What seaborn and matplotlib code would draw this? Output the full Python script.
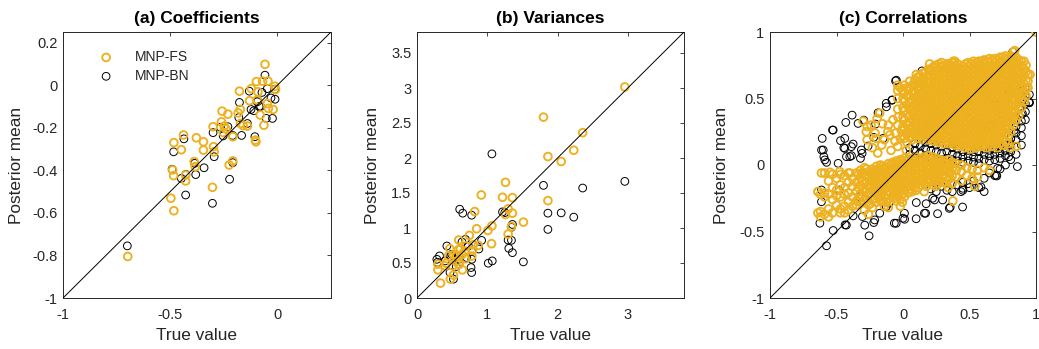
import matplotlib
matplotlib.use("Agg")
import matplotlib.pyplot as plt
import seaborn as sns
import pandas as pd

# ---------------- data ----------------
# (a) Coefficients: (true value, posterior mean)
coef_fs = [(-0.058,0.098),(-0.098,0.017),(-0.069,0.019),(-0.044,0.019),(-0.012,-0.005),(-0.009,-0.020),
           (-0.177,-0.028),(-0.091,-0.031),(-0.122,-0.016),(-0.130,-0.073),(-0.094,-0.070),(-0.173,-0.114),
           (-0.183,-0.130),(-0.047,-0.086),(-0.042,-0.109),(-0.020,-0.114),(-0.080,-0.140),(-0.063,-0.188),
           (-0.258,-0.122),(-0.231,-0.136),(-0.261,-0.172),(-0.248,-0.192),(-0.240,-0.205),(-0.300,-0.195),
           (-0.253,-0.222),(-0.208,-0.242),(-0.172,-0.180),(-0.160,-0.190),(-0.140,-0.192),(-0.103,-0.258),
           (-0.100,-0.266),(-0.438,-0.234),(-0.378,-0.247),(-0.345,-0.266),(-0.345,-0.305),(-0.483,-0.270),
           (-0.448,-0.303),(-0.298,-0.289),(-0.295,-0.313),(-0.388,-0.359),(-0.383,-0.383),(-0.489,-0.398),
           (-0.484,-0.425),(-0.428,-0.422),(-0.428,-0.450),(-0.208,-0.356),(-0.225,-0.375),(-0.303,-0.480),
           (-0.497,-0.531),(-0.483,-0.590),(-0.698,-0.805)]
coef_bn = [(-0.058,0.047),(-0.047,-0.016),(-0.131,-0.028),(-0.072,-0.034),(-0.012,-0.019),(-0.011,-0.066),
           (-0.177,-0.081),(-0.123,-0.114),(-0.091,-0.073),(-0.078,-0.100),(-0.052,-0.156),(-0.023,-0.156),
           (-0.180,-0.152),(-0.266,-0.198),(-0.231,-0.195),(-0.300,-0.223),(-0.253,-0.238),(-0.209,-0.236),
           (-0.167,-0.236),(-0.105,-0.242),(-0.436,-0.252),(-0.484,-0.313),(-0.295,-0.336),(-0.386,-0.367),
           (-0.342,-0.388),(-0.491,-0.395),(-0.448,-0.438),(-0.427,-0.419),(-0.381,-0.420),(-0.208,-0.364),
           (-0.223,-0.442),(-0.428,-0.516),(-0.303,-0.555),(-0.700,-0.755),(-0.094,-0.078),(-0.140,-0.180),
           (-0.110,-0.120),(-0.030,-0.060),(-0.085,-0.100)]

# (b) Variances
var_fs = [(2.958,3.015),(1.800,2.584),(2.358,2.362),(2.231,2.111),(1.863,2.021),(2.052,1.950),(1.259,1.652),
          (0.915,1.472),(1.217,1.439),(1.358,1.434),(1.863,1.391),(0.821,1.235),(1.297,1.273),(1.259,1.193),
          (1.358,1.212),(1.514,1.084),(0.849,0.989),(1.066,1.030),(1.009,0.965),(1.344,1.022),(1.297,0.913),
          (1.061,0.776),(0.745,0.894),(0.594,0.828),(0.698,0.743),(0.873,0.752),(0.467,0.705),(0.448,0.601),
          (0.566,0.601),(0.415,0.497),(0.297,0.483),(0.297,0.402),(0.509,0.459),(0.519,0.326),(0.476,0.270),
          (0.335,0.213),(0.646,0.402),(0.620,0.700),(0.790,0.680),(0.640,0.620),(0.560,0.520),(0.690,0.560),
          (0.800,0.760),(0.520,0.620),(0.400,0.460),(0.600,0.480),(0.590,0.690),(0.680,0.670),(0.780,0.600)]
var_bn = [(1.066,2.059),(1.800,1.609),(2.358,1.571),(2.958,1.666),(0.608,1.268),(0.651,1.212),(0.778,1.183),
          (1.217,1.230),(1.250,1.220),(1.863,1.212),(2.052,1.216),(2.231,1.155),(1.863,0.980),(1.358,1.051),
          (1.344,1.010),(1.297,0.828),(1.307,0.710),(1.344,0.824),(1.358,0.648),(1.514,0.516),(1.071,0.530),
          (1.014,0.497),(0.920,0.823),(0.689,0.838),(0.731,0.743),(0.425,0.743),(0.321,0.601),(0.292,0.511),
          (0.495,0.625),(0.769,0.435),(0.778,0.364),(0.590,0.554),(0.470,0.364),(0.708,0.577),(0.780,0.553),
          (0.590,0.487),(0.400,0.530),(0.283,0.553),(0.519,0.270),(0.880,0.700),(0.640,0.800),(0.560,0.450),
          (0.480,0.600)]

# (c) Correlations: columns of (true value, [posterior means])
corr_fs_upper = [
    (-0.04, [0.30, 0.42, 0.50, 0.56, 0.60]),
    (0.00, [0.22, 0.29, 0.36, 0.43, 0.50, 0.56]),
    (0.01, [0.20, 0.27, 0.34, 0.41, 0.48, 0.54, 0.60]),
    (0.03, [0.17, 0.24, 0.31, 0.38, 0.45, 0.52, 0.58]),
    (0.05, [0.21, 0.27, 0.32, 0.37, 0.42, 0.47, 0.52, 0.58]),
    (0.07, [0.19, 0.24, 0.29, 0.34, 0.39, 0.44, 0.49, 0.55, 0.60]),
    (0.09, [0.22, 0.27, 0.31, 0.36, 0.41, 0.46, 0.50, 0.55, 0.60, 0.64]),
    (0.11, [0.20, 0.25, 0.29, 0.34, 0.38, 0.43, 0.48, 0.52, 0.57, 0.62, 0.66]),
    (0.13, [0.22, 0.26, 0.31, 0.35, 0.40, 0.44, 0.49, 0.53, 0.58, 0.62, 0.67]),
    (0.15, [0.19, 0.24, 0.28, 0.33, 0.37, 0.42, 0.46, 0.51, 0.55, 0.60, 0.64, 0.69]),
    (0.17, [0.21, 0.26, 0.30, 0.35, 0.39, 0.44, 0.48, 0.53, 0.57, 0.62, 0.66, 0.70]),
    (0.19, [0.19, 0.23, 0.27, 0.32, 0.36, 0.40, 0.45, 0.49, 0.53, 0.58, 0.62, 0.67, 0.72]),
    (0.21, [0.20, 0.25, 0.29, 0.33, 0.38, 0.42, 0.46, 0.50, 0.55, 0.59, 0.63, 0.67, 0.72]),
    (0.23, [0.18, 0.22, 0.26, 0.31, 0.35, 0.39, 0.43, 0.48, 0.52, 0.56, 0.61, 0.65, 0.69, 0.74]),
    (0.25, [0.19, 0.23, 0.28, 0.32, 0.36, 0.41, 0.45, 0.49, 0.53, 0.58, 0.62, 0.66, 0.71, 0.75]),
    (0.27, [0.17, 0.21, 0.25, 0.30, 0.34, 0.38, 0.42, 0.47, 0.51, 0.55, 0.59, 0.64, 0.68, 0.72, 0.76]),
    (0.29, [0.18, 0.22, 0.27, 0.31, 0.35, 0.40, 0.44, 0.48, 0.52, 0.57, 0.61, 0.65, 0.69, 0.74, 0.77]),
    (0.31, [0.16, 0.20, 0.24, 0.29, 0.33, 0.37, 0.41, 0.46, 0.50, 0.54, 0.58, 0.63, 0.67, 0.71, 0.75]),
    (0.33, [0.18, 0.22, 0.26, 0.31, 0.35, 0.39, 0.44, 0.48, 0.52, 0.56, 0.61, 0.65, 0.69, 0.73, 0.76]),
    (0.35, [0.16, 0.20, 0.25, 0.29, 0.33, 0.38, 0.42, 0.46, 0.50, 0.55, 0.59, 0.63, 0.67, 0.72, 0.76]),
    (0.37, [0.17, 0.21, 0.26, 0.30, 0.34, 0.39, 0.43, 0.47, 0.52, 0.56, 0.60, 0.64, 0.69, 0.73, 0.77]),
    (0.39, [0.15, 0.19, 0.23, 0.28, 0.32, 0.36, 0.40, 0.45, 0.49, 0.53, 0.57, 0.62, 0.66, 0.70, 0.74, 0.78]),
    (0.41, [0.16, 0.20, 0.25, 0.29, 0.33, 0.38, 0.42, 0.46, 0.50, 0.55, 0.59, 0.63, 0.68, 0.72, 0.76]),
    (0.43, [0.14, 0.18, 0.23, 0.27, 0.31, 0.35, 0.40, 0.44, 0.48, 0.52, 0.57, 0.61, 0.65, 0.69, 0.73]),
    (0.45, [0.15, 0.19, 0.24, 0.28, 0.32, 0.37, 0.41, 0.45, 0.50, 0.54, 0.58, 0.62, 0.67, 0.71, 0.74]),
    (0.47, [0.13, 0.17, 0.22, 0.26, 0.30, 0.34, 0.39, 0.43, 0.47, 0.51, 0.56, 0.60, 0.64, 0.68, 0.72, 0.76]),
    (0.49, [0.14, 0.19, 0.23, 0.27, 0.32, 0.36, 0.40, 0.44, 0.49, 0.53, 0.57, 0.62, 0.66, 0.70, 0.74, 0.77]),
    (0.51, [0.12, 0.16, 0.21, 0.25, 0.29, 0.34, 0.38, 0.42, 0.46, 0.51, 0.55, 0.59, 0.63, 0.68, 0.72, 0.76]),
    (0.53, [0.14, 0.18, 0.23, 0.27, 0.31, 0.36, 0.40, 0.44, 0.49, 0.53, 0.57, 0.61, 0.66, 0.70, 0.74, 0.78]),
    (0.55, [0.13, 0.17, 0.21, 0.26, 0.30, 0.34, 0.38, 0.43, 0.47, 0.51, 0.55, 0.60, 0.64, 0.68, 0.72, 0.77]),
    (0.57, [0.15, 0.19, 0.24, 0.28, 0.32, 0.36, 0.41, 0.45, 0.49, 0.54, 0.58, 0.62, 0.67, 0.71, 0.75, 0.78]),
    (0.59, [0.14, 0.18, 0.22, 0.27, 0.31, 0.35, 0.40, 0.44, 0.48, 0.52, 0.57, 0.61, 0.65, 0.69, 0.74, 0.78]),
    (0.61, [0.15, 0.20, 0.24, 0.29, 0.33, 0.37, 0.42, 0.46, 0.50, 0.55, 0.59, 0.63, 0.67, 0.72, 0.76, 0.79]),
    (0.63, [0.13, 0.17, 0.22, 0.26, 0.30, 0.35, 0.39, 0.43, 0.48, 0.52, 0.56, 0.60, 0.65, 0.69, 0.73, 0.78]),
    (0.65, [0.16, 0.21, 0.25, 0.29, 0.34, 0.38, 0.42, 0.47, 0.51, 0.55, 0.60, 0.64, 0.68, 0.72, 0.77, 0.80]),
    (0.67, [0.14, 0.19, 0.23, 0.27, 0.32, 0.36, 0.40, 0.45, 0.49, 0.53, 0.58, 0.62, 0.66, 0.70, 0.75, 0.79]),
    (0.69, [0.16, 0.20, 0.25, 0.29, 0.34, 0.38, 0.42, 0.47, 0.51, 0.55, 0.60, 0.64, 0.68, 0.72, 0.77, 0.80]),
    (0.71, [0.13, 0.18, 0.22, 0.27, 0.31, 0.35, 0.40, 0.44, 0.48, 0.53, 0.57, 0.61, 0.66, 0.70, 0.74, 0.79]),
    (0.73, [0.16, 0.21, 0.25, 0.30, 0.34, 0.38, 0.43, 0.47, 0.51, 0.56, 0.60, 0.64, 0.69, 0.73, 0.77, 0.81]),
    (0.75, [0.15, 0.20, 0.25, 0.29, 0.34, 0.38, 0.42, 0.47, 0.51, 0.55, 0.60, 0.64, 0.68, 0.73, 0.77, 0.81]),
    (0.77, [0.18, 0.23, 0.28, 0.32, 0.36, 0.41, 0.45, 0.49, 0.54, 0.58, 0.62, 0.67, 0.71, 0.75, 0.79, 0.82]),
    (0.79, [0.16, 0.22, 0.28, 0.33, 0.37, 0.42, 0.46, 0.50, 0.55, 0.59, 0.63, 0.68, 0.72, 0.76, 0.80]),
    (0.81, [0.25, 0.31, 0.36, 0.40, 0.44, 0.49, 0.53, 0.57, 0.62, 0.66, 0.70, 0.74, 0.78, 0.82]),
    (0.83, [0.30, 0.36, 0.41, 0.45, 0.50, 0.54, 0.58, 0.63, 0.67, 0.71, 0.76, 0.80, 0.85]),
    (0.85, [0.34, 0.40, 0.45, 0.50, 0.55, 0.60, 0.64, 0.69, 0.73, 0.77, 0.81]),
    (0.87, [0.37, 0.42, 0.47, 0.52, 0.57, 0.62, 0.66, 0.71, 0.75, 0.79]),
    (0.89, [0.43, 0.49, 0.54, 0.59, 0.64, 0.69, 0.74, 0.78]),
    (0.91, [0.48, 0.55, 0.61, 0.67, 0.72, 0.78]),
    (0.925, [0.52, 0.58, 0.64, 0.70, 0.75]),
    (0.94, [0.58, 0.63, 0.68]),
]
corr_fs_lower = [
    (-0.64, [-0.20, -0.36]), (-0.62, [-0.22, -0.35, -0.39]), (-0.59, [-0.06, -0.21, -0.24, -0.37]),
    (-0.56, [-0.12, -0.22, -0.33, -0.39]), (-0.53, [-0.07, -0.17, -0.26, -0.36]),
    (-0.50, [-0.10, -0.19, -0.23, -0.30]), (-0.47, [-0.07, -0.15, -0.24, -0.33, -0.36]),
    (-0.44, [-0.08, -0.17, -0.22, -0.31, -0.36]), (-0.41, [-0.06, -0.13, -0.21, -0.28, -0.34]),
    (-0.38, [-0.10, -0.16, -0.24, -0.31]), (-0.35, [-0.06, -0.13, -0.20, -0.27, -0.30]),
    (-0.335, [-0.07, -0.17, -0.25]), (-0.32, [-0.04, -0.09, -0.15, -0.22, -0.28]),
    (-0.305, [-0.06, -0.12, -0.18, -0.24]), (-0.29, [-0.02, -0.08, -0.14, -0.19, -0.27, -0.34]),
    (-0.275, [-0.03, -0.08, -0.13, -0.20, -0.26]), (-0.26, [-0.05, -0.10, -0.16, -0.23, -0.30, -0.37]),
    (-0.245, [-0.06, -0.11, -0.16, -0.22, -0.29]), (-0.23, [-0.03, -0.08, -0.13, -0.19, -0.26, -0.32]),
    (-0.215, [-0.04, -0.09, -0.14, -0.19, -0.25]), (-0.20, [-0.01, -0.06, -0.11, -0.16, -0.22, -0.28]),
    (-0.185, [-0.03, -0.08, -0.13, -0.18, -0.24]), (-0.17, [0.00, -0.05, -0.10, -0.15, -0.21, -0.27]),
    (-0.155, [-0.01, -0.05, -0.10, -0.15, -0.21, -0.27]), (-0.14, [-0.02, -0.07, -0.12, -0.18, -0.24, -0.31]),
    (-0.125, [-0.02, -0.06, -0.11, -0.17, -0.22, -0.28]), (-0.11, [0.01, -0.04, -0.09, -0.14, -0.20, -0.25, -0.32]),
    (-0.095, [0.00, -0.05, -0.10, -0.15, -0.21]), (-0.08, [0.02, -0.03, -0.08, -0.13, -0.18, -0.24]),
    (-0.065, [0.01, -0.04, -0.09, -0.14, -0.20, -0.25]), (-0.05, [0.03, -0.02, -0.07, -0.12, -0.17, -0.22, -0.27]),
    (-0.035, [0.02, -0.03, -0.08, -0.13, -0.18, -0.23]), (-0.02, [0.04, 0.00, -0.05, -0.10, -0.15, -0.20, -0.26, -0.31]),
    (-0.005, [0.03, -0.02, -0.07, -0.12, -0.17, -0.22, -0.28]), (0.01, [0.05, 0.01, -0.04, -0.09, -0.14, -0.19, -0.24]),
    (0.025, [0.03, -0.02, -0.07, -0.12, -0.17]), (0.04, [0.04, -0.01, -0.06, -0.11, -0.16, -0.21]),
    (0.055, [0.02, -0.03, -0.08, -0.13, -0.18]), (0.07, [0.05, 0.00, -0.05, -0.10, -0.15, -0.20]),
    (0.085, [0.03, -0.02, -0.07, -0.12, -0.17]), (0.10, [0.06, 0.01, -0.04, -0.09, -0.14, -0.19]),
    (0.115, [0.03, -0.02, -0.07, -0.12, -0.17]), (0.13, [0.05, 0.00, -0.05, -0.10, -0.15]),
    (0.145, [0.03, -0.02, -0.07, -0.12]), (0.16, [0.06, 0.01, -0.04, -0.09, -0.14, -0.20]),
    (0.175, [0.04, -0.01, -0.06, -0.11, -0.16]), (0.19, [0.07, 0.02, -0.03, -0.08, -0.13]),
    (0.205, [0.04, -0.01, -0.06, -0.11]), (0.22, [0.06, 0.01, -0.04, -0.09, -0.15]),
    (0.235, [0.03, -0.02, -0.07, -0.12]), (0.25, [0.05, 0.00, -0.05, -0.10, -0.16]),
    (0.265, [0.02, -0.03, -0.08, -0.14]), (0.28, [0.04, -0.01, -0.06, -0.12]),
    (0.295, [0.01, -0.04, -0.09]), (0.31, [0.03, -0.02, -0.07, -0.13]),
    (0.325, [0.01, -0.04, -0.09, -0.14]), (0.34, [0.04, -0.01, -0.06, -0.11, -0.17]),
    (0.355, [0.00, -0.05, -0.10]), (0.37, [0.02, -0.03, -0.08, -0.14]),
    (0.40, [0.01, -0.04, -0.09]), (0.44, [0.00, -0.05, -0.12]), (0.48, [-0.02, -0.08]),
    (0.52, [-0.03, -0.10]), (0.56, [-0.04, -0.09]), (0.61, [-0.02]),
]
corr_fs_other = [(-0.30,0.33),(-0.27,0.29),(-0.24,0.30),(-0.195,0.35),(-0.175,0.39),(-0.155,0.31),(-0.11,0.30),
                 (-0.075,0.34),(-0.0375,0.36),(-0.10,0.225),(-0.055,0.24),(-0.0125,0.26),(-0.19,0.09),(-0.27,0.19),
                 (-0.21,0.24),(-0.09,0.11),(-0.04,0.14),(0.025,0.11),(-0.14,0.19),(-0.20,0.20),(-0.276,0.25),
                 (-0.114,0.25),(-0.23,0.13),(-0.16,0.15),(-0.06,0.18),(-0.02,0.20),(0.375,-0.27),(0.65,-0.04),
                 (0.81,0.13),(0.85,0.14),(0.955,0.68),(0.38,0.78),(0.54,-0.16),(1.0,1.0),(-0.613,-0.06),
                 (-0.55,-0.055),(-0.476,-0.05),(-0.40,-0.06),(0.84,0.86),(0.20,0.76),(0.10,0.68),(0.05,0.63),
                 (-0.02,0.58)]
corr_bn_band = [
    (0.05, [0.02, 0.08, 0.13]), (0.09, [0.06, 0.11, 0.16]), (0.13, [0.04, 0.09, 0.14]),
    (0.17, [0.07, 0.12, 0.17]), (0.21, [0.06, 0.11, 0.16, -0.18]), (0.25, [0.05, 0.10, 0.15, -0.20]),
    (0.29, [0.04, 0.09, 0.14, -0.16]), (0.33, [0.05, 0.10, 0.15, -0.19]), (0.37, [0.04, 0.08, 0.13, -0.20]),
    (0.41, [0.03, 0.07, 0.12, -0.15]), (0.45, [0.02, 0.06, 0.10, -0.13, -0.19]), (0.49, [0.03, 0.07, 0.11, -0.14]),
    (0.53, [0.02, 0.06, 0.10, -0.12]), (0.57, [0.01, 0.05, 0.10, -0.17]), (0.61, [0.04, 0.08, 0.12, -0.10]),
    (0.65, [0.03, 0.07, 0.11, -0.06]), (0.69, [0.04, 0.08, 0.12, -0.08]), (0.73, [0.05, 0.09, 0.14, -0.03]),
    (0.77, [0.07, 0.11, 0.15, 0.00]), (0.81, [0.10, 0.15, 0.20, 0.25, 0.04]),
    (0.85, [0.14, 0.19, 0.24, 0.29, 0.34, 0.08]), (0.89, [0.22, 0.28, 0.33, 0.38, 0.44, 0.15]),
    (0.92, [0.34, 0.40, 0.46, 0.52, 0.58]), (0.95, [0.47, 0.53]),
]
corr_bn_other = [(0.1425,0.7075),(-0.05,0.6375),(-0.083,0.4875),(-0.125,0.4375),(-0.1875,0.3925),(-0.3825,0.375),
                 (-0.43,0.32),(-0.295,0.3375),(-0.3375,0.3125),(-0.525,0.2625),(-0.6075,0.2),(-0.6125,0.1125),
                 (-0.595,0.0625),(-0.575,0.02),(-0.4375,0.2),(-0.375,0.1575),(-0.445,0.13),(-0.4875,0.0125),
                 (-0.425,0.0625),(-0.3875,0.07),(-0.3075,0.0875),(-0.2625,0.1425),(-0.22,0.2075),(-0.15,0.2),
                 (-0.6375,-0.2),(-0.625,-0.4375),(-0.525,-0.4925),(-0.575,-0.6075),(-0.435,-0.45),(-0.375,-0.3825),
                 (-0.305,-0.3875),(-0.2875,-0.4525),(-0.255,-0.5325),(-0.22,-0.4325),(-0.175,-0.3625),(-0.065,-0.4375),
                 (0.0,-0.4),(0.17,-0.3625),(0.1,-0.2825),(0.2375,-0.2625),(0.355,-0.3175),(0.45,-0.175),(0.705,-0.0825),
                 (0.795,0.0625),(0.95,0.4675),(0.9,0.5625),(0.825,0.85),(1.0,1.0),(-0.53,0.263),(-0.47,0.183),
                 (-0.438,0.125),(-0.388,0.138),(-0.40,0.063),(-0.32,0.05),(-0.313,0.113),(-0.206,0.308),(-0.126,0.464),
                 (-0.081,0.489),(-0.056,0.632),(-0.60,0.113),(-0.588,0.038),(-0.613,-0.276),(-0.426,-0.452),
                 (-0.213,-0.413),(-0.126,-0.313),(-0.176,-0.238),(-0.326,-0.238),(-0.48,-0.188),(-0.613,-0.188),
                 (-0.276,-0.088),(-0.051,-0.438),(0.012,-0.408),(-0.106,-0.288),(0.70,-0.076),(0.50,-0.17),
                 (0.348,-0.326),(0.223,-0.25),(0.161,-0.363),(0.011,-0.363),(0.298,-0.263),(0.436,-0.20),(0.61,-0.20),
                 (0.711,-0.025),(0.86,-0.012),(0.948,0.474),(0.91,0.549),(0.898,0.386),(0.836,0.261),(0.81,0.198),
                 (0.723,0.123),(0.586,-0.165),(0.448,-0.316),(0.26,-0.366),(0.174,-0.291),(0.099,-0.404),
                 (0.30,0.30),(0.50,0.35),(0.60,0.50),(0.45,0.45),(0.70,0.45),(0.25,0.40),(0.80,0.55),(0.35,0.55),
                 (0.15,0.30),(0.55,0.25),(0.40,0.62),(0.65,0.30)]

# axis settings
a_ticks_x, a_labels_x = [-1, -0.5, 0], ["-1", "-0.5", "0"]
a_ticks_y = [-1, -0.8, -0.6, -0.4, -0.2, 0, 0.2]
a_labels_y = ["-1", "-0.8", "-0.6", "-0.4", "-0.2", "0", "0.2"]
b_ticks_x, b_labels_x = [0, 1, 2, 3], ["0", "1", "2", "3"]
b_ticks_y = [0, 0.5, 1, 1.5, 2, 2.5, 3, 3.5]
b_labels_y = ["0", "0.5", "1", "1.5", "2", "2.5", "3", "3.5"]
c_ticks = [-1, -0.5, 0, 0.5, 1]
c_labels = ["-1", "-0.5", "0", "0.5", "1"]
titles = ["(a) Coefficients", "(b) Variances", "(c) Correlations"]

ORANGE = "#EDB120"
BLACK = "#000000"
GREY = "#262626"


def cols_to_pts(cols):
    return [(x, y) for x, ys in cols for y in ys]


def frame(pts):
    return pd.DataFrame(pts, columns=["true", "post"])


sns.set_theme(style="white")
plt.rcParams["font.family"] = ["Liberation Sans", "DejaVu Sans"]
plt.rcParams["axes.unicode_minus"] = False

fig = plt.figure(figsize=(10.39, 3.49), dpi=100)
W, H = 1039, 349
boxes = [(63, 331), (417, 684), (770, 1036)]
top, bottom = 32, 298

panels = [
    (frame(coef_fs), frame(coef_bn), (-1, 0.25), a_ticks_x, a_labels_x, a_ticks_y, a_labels_y, -0.147),
    (frame(var_fs), frame(var_bn), (0, 3.8), b_ticks_x, b_labels_x, b_ticks_y, b_labels_y, -0.139),
    (frame(cols_to_pts(corr_fs_upper) + cols_to_pts(corr_fs_lower) + corr_fs_other),
     frame(cols_to_pts(corr_bn_band) + corr_bn_other), (-1, 1), c_ticks, c_labels, c_ticks, c_labels, -0.154),
]

for i, ((l, r), (fs, bn, lim, xt, xl, yt, yl, ylx)) in enumerate(zip(boxes, panels)):
    ax = fig.add_axes([l / W, 1 - bottom / H, (r - l) / W, (bottom - top) / H])
    sns.scatterplot(data=bn, x="true", y="post", ax=ax, marker="o", s=31, color=BLACK,
                    facecolors="none", edgecolor=BLACK, linewidth=0.7, zorder=2, legend=False)
    h_bn = ax.collections[-1]
    sns.scatterplot(data=fs, x="true", y="post", ax=ax, marker="o", s=31, color=ORANGE,
                    facecolors="none", edgecolor=ORANGE, linewidth=1.35, zorder=3, legend=False)
    h_fs = ax.collections[-1]
    ax.plot(lim, lim, color="black", lw=0.7, zorder=4)
    ax.set_xlim(lim)
    ax.set_ylim(lim)
    ax.set_xticks(xt)
    ax.set_xticklabels(xl)
    ax.set_yticks(yt)
    ax.set_yticklabels(yl)
    ax.tick_params(direction="in", top=True, right=True, length=3, width=0.6,
                   colors=GREY, labelsize=10.5)
    ax.tick_params(axis="x", pad=7.5)
    ax.tick_params(axis="y", pad=4)
    for s in ax.spines.values():
        s.set_visible(True)
        s.set_color(GREY)
        s.set_linewidth(0.7)
    ax.set_title(titles[i], fontsize=12.5, fontweight="bold", pad=6.5, color="black")
    ax.set_xlabel("True value", fontsize=12.4, color=GREY)
    ax.set_ylabel("Posterior mean", fontsize=12.4, color=GREY)
    ax.xaxis.set_label_coords(0.5, -0.112)
    ax.yaxis.set_label_coords(ylx, 0.5)
    if i == 0:
        h_fs.set_label("MNP-FS")
        h_bn.set_label("MNP-BN")
        ax.legend(handles=[h_fs, h_bn], loc="upper left", bbox_to_anchor=(0.122, 0.932),
                  frameon=False, fontsize=10, handlelength=1.5, handletextpad=1.3,
                  labelspacing=0.35, borderpad=0, borderaxespad=0, scatterpoints=1)

fig.savefig("out.png", dpi=100)
